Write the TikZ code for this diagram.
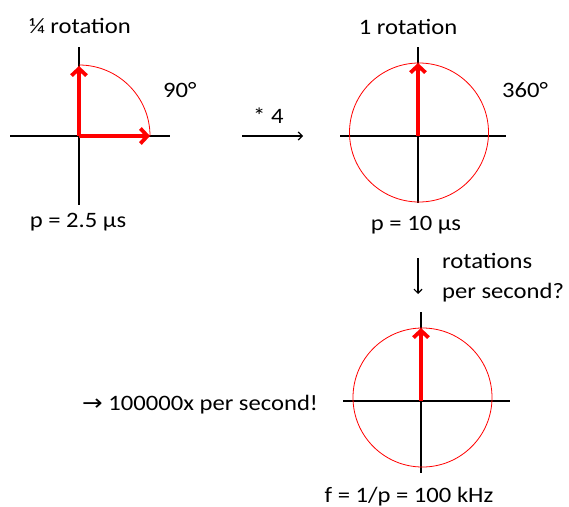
\documentclass[tikz,border=0pt]{standalone}
\usepackage{fontspec}
\setmainfont[FakeStretch=1.12]{Carlito}
\newfontfamily\arrowfont[FakeStretch=1.12]{DejaVu Sans}
\usetikzlibrary{arrows.meta,positioning}

\begin{document}
\begin{tikzpicture}[x=1pt,y=-1pt,font=\fontsize{22}{26}\selectfont,
  axis/.style={black,line width=1.5pt},
  hand/.style={red,line width=3.8pt,-{Straight Barb[length=7pt,width=15pt]}},
  ring/.style={red,line width=0.8pt},
  flow/.style={black,line width=1.2pt,-{Straight Barb[length=4pt,width=8pt]}},
  txt/.style={inner sep=0pt}]
\useasboundingbox (0,0) rectangle (569,506);
% quarter rotation
\coordinate (o1) at (79,136);
\coordinate (t1) at (79,66);
\coordinate (r1) at (150,136);
\draw[axis] (o1) ++(-69,0) -- ++(160,0);
\draw[axis] (o1) ++(0,-89) -- ++(0,158);
\draw[ring] (r1) arc[start angle=0,end angle=-90,radius=71];
\draw[hand] (o1) -- (r1);
\draw[hand] (o1) -- (t1);
\node[txt,anchor=base] (q1) at (80,33) {¼ rotation};
\node[txt,anchor=base west] (d1) at (163,97) {90°};
\node[txt,anchor=base] (p1) at (78,227) {p = 2.5 µs};
% times four
\coordinate (m1) at (242,136);
\coordinate (m2) at (303,136);
\draw[flow] (m1) -- (m2);
\node[txt,anchor=base west] (k1) at (253,123) {* 4};
% full rotation
\coordinate (o2) at (418,136);
\coordinate (t2) at (418,63);
\draw[axis] (o2) ++(-78,0) -- ++(166,0);
\draw[axis] (o2) ++(0,-89) -- ++(0,156);
\draw[ring] (o2) ++(1,-3.5) circle[radius=69.5];
\draw[hand] (o2) -- (t2);
\node[txt,anchor=base] (q2) at (408,34) {1 rotation};
\node[txt,anchor=base west] (d2) at (502,97) {360°};
\node[txt,anchor=base] (p2) at (416,230) {p = 10 µs};
% per second
\coordinate (s1) at (418,258);
\coordinate (s2) at (418,294);
\draw[flow] (s1) -- (s2);
\node[txt,anchor=base west] (w1) at (442,268) {rotations};
\node[txt,anchor=base west] (w2) at (442,298) {per second?};
% frequency
\coordinate (o3) at (421,401);
\coordinate (t3) at (421,328);
\draw[axis] (o3) ++(-78,0) -- ++(167,0);
\draw[axis] (o3) ++(0,-89) -- ++(0,161);
\draw[ring] (o3) ++(1.5,-3.5) circle[radius=69.5];
\draw[hand] (o3) -- (t3);
\node[txt,anchor=base west] (h1) at (82,410) {{\arrowfont →} 100000x per second!};
\node[txt,anchor=base] (f1) at (409,502) {f = 1/p = 100 kHz};
\end{tikzpicture}
\end{document}
